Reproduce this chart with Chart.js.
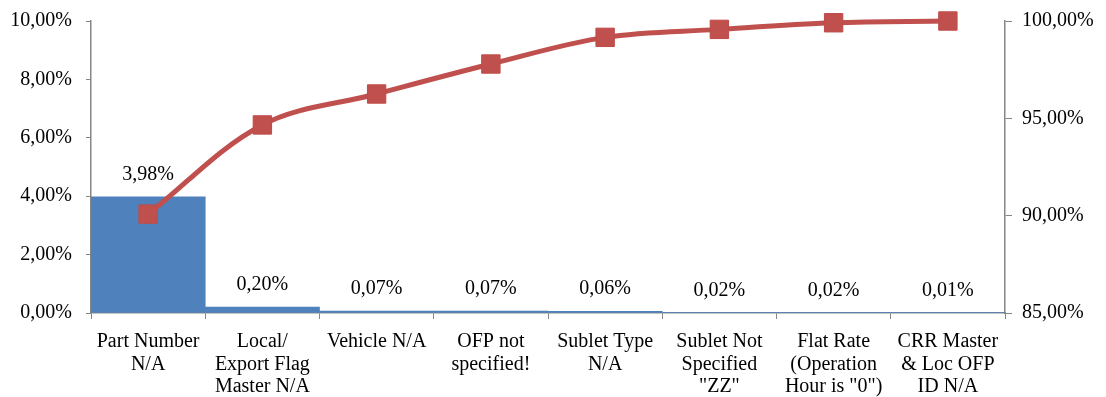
<!DOCTYPE html>
<html>
<head>
<meta charset="utf-8">
<script src="https://cdn.jsdelivr.net/npm/chart.js@4.4.1/dist/chart.umd.min.js"></script>
<style>
  html, body { margin: 0; padding: 0; background: #fff; }
  #wrap { width: 1106px; height: 397px; }
</style>
</head>
<body>
<div id="wrap"><canvas id="paretoChart" width="1106" height="397"></canvas></div>
<script>
const categories = [
  ["Part Number", "N/A"],
  ["Local/", "Export Flag", "Master N/A"],
  ["Vehicle N/A"],
  ["OFP not", "specified!"],
  ["Sublet Type", "N/A"],
  ["Sublet Not", "Specified", "\"ZZ\""],
  ["Flat Rate", "(Operation", "Hour is \"0\")"],
  ["CRR Master", "& Loc OFP", "ID N/A"]
];
const shareValues = [3.98, 0.20, 0.07, 0.07, 0.06, 0.02, 0.02, 0.01];
const cumulativeValues = [90.08, 94.66, 96.25, 97.79, 99.16, 99.57, 99.91, 100.00];
const leftTicks = [0, 2, 4, 6, 8, 10];
const rightTicks = [85, 90, 95, 100];

const fmt = v => v.toFixed(2).replace(".", ",") + "%";
const serif = "'Liberation Serif', 'Times New Roman', serif";
const axisGrey = "#868686";

// draws the value labels above the bars
const barLabels = {
  id: "barLabels",
  afterDatasetsDraw(chart) {
    const ctx = chart.ctx;
    const meta = chart.getDatasetMeta(1);
    ctx.save();
    ctx.font = "20px " + serif;
    ctx.fillStyle = "#000";
    ctx.textAlign = "center";
    ctx.textBaseline = "middle";
    meta.data.forEach((bar, i) => {
      ctx.fillText(fmt(shareValues[i]), bar.x, bar.y - 22);
    });
    ctx.restore();
  }
};

Chart.defaults.font.family = serif;
Chart.defaults.font.size = 20;
Chart.defaults.color = "#000";

const noVPad = scale => { scale.paddingTop = 0; scale.paddingBottom = 0; };

new Chart(document.getElementById("paretoChart").getContext("2d"), {
  data: {
    labels: categories,
    datasets: [{
      type: "line",
      data: cumulativeValues,
      yAxisID: "y1",
      order: 0,
      clip: false,
      borderColor: "#C0504D",
      backgroundColor: "#C0504D",
      borderWidth: 5,
      tension: 0.35,
      pointStyle: "rect",
      pointRadius: 13,
      pointBorderWidth: 1,
      pointBackgroundColor: "#C0504D",
      pointBorderColor: "#BE4B48"
    }, {
      type: "bar",
      data: shareValues,
      yAxisID: "y",
      order: 1,
      backgroundColor: "#4F81BD",
      borderWidth: 0,
      categoryPercentage: 1,
      barPercentage: 1
    }]
  },
  options: {
    responsive: false,
    animation: false,
    layout: { padding: { top: 21, left: 0, right: 0, bottom: 0 } },
    plugins: {
      legend: { display: false },
      tooltip: { enabled: false }
    },
    scales: {
      x: {
        offset: true,
        grid: { offset: true, drawOnChartArea: false, drawTicks: true, tickLength: 6, color: axisGrey },
        border: { color: axisGrey, width: 1.5 },
        ticks: { padding: 12, maxRotation: 0, autoSkip: false, font: { size: 20, lineHeight: 1.12 } },
        afterFit(scale) { scale.height = 84; scale.paddingLeft = 0; scale.paddingRight = 0; }
      },
      y: {
        position: "left",
        min: 0,
        max: 10,
        afterBuildTicks(scale) { scale.ticks = leftTicks.map(v => ({ value: v })); },
        grid: { drawOnChartArea: false, tickLength: 5, color: axisGrey },
        border: { color: axisGrey, width: 1.5 },
        ticks: { padding: 14, callback: v => fmt(v) },
        afterFit(scale) { scale.width = 91; noVPad(scale); }
      },
      y1: {
        position: "right",
        min: 85,
        max: 100,
        afterBuildTicks(scale) { scale.ticks = rightTicks.map(v => ({ value: v })); },
        grid: { drawOnChartArea: false, tickLength: 7, color: axisGrey },
        border: { color: axisGrey, width: 1.5 },
        ticks: { padding: 10, callback: v => fmt(v) },
        afterFit(scale) { scale.width = 101; noVPad(scale); }
      }
    }
  },
  plugins: [barLabels]
});
</script>
</body>
</html>
